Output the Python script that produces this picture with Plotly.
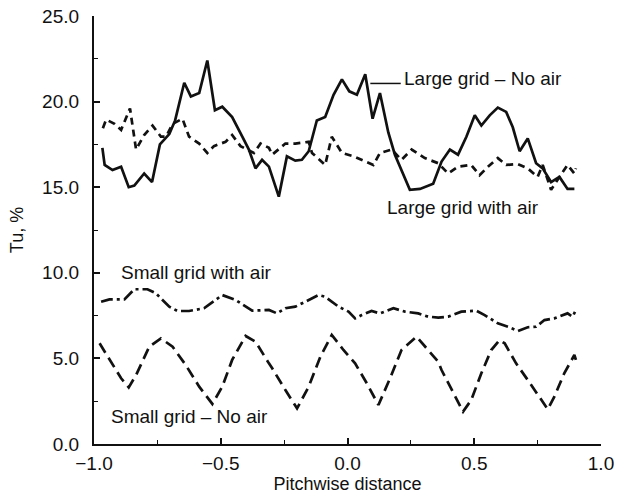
import plotly.graph_objects as go

# Turbulence intensity (Tu, %) across the pitch for four grid / air configurations

large_no_air_x = [-0.967, -0.958, -0.927, -0.893, -0.863, -0.841, -0.802, -0.771, -0.740, -0.703,
                  -0.680, -0.644, -0.618, -0.585, -0.553, -0.523, -0.494, -0.455, -0.415, -0.389,
                  -0.363, -0.337, -0.310, -0.271, -0.239, -0.206, -0.180, -0.153, -0.121, -0.088,
                  -0.055, -0.022, 0.007, 0.037, 0.070, 0.099, 0.128, 0.161, 0.187, 0.246,
                  0.286, 0.338, 0.371, 0.404, 0.436, 0.469, 0.502, 0.528, 0.561, 0.593,
                  0.626, 0.652, 0.679, 0.711, 0.744, 0.770, 0.803, 0.836, 0.868, 0.895]
large_no_air_y = [17.3, 16.3, 16.0, 16.2, 15.0, 15.1, 15.8, 15.3, 17.5, 18.1,
                  18.9, 21.1, 20.3, 20.5, 22.4, 19.5, 19.7, 19.1, 17.95, 17.2,
                  16.1, 16.6, 16.2, 14.45, 16.8, 16.55, 16.6, 17.1, 18.9, 19.1,
                  20.4, 21.3, 20.6, 20.4, 21.6, 19.0, 20.5, 18.2, 16.9, 14.85,
                  14.9, 15.2, 16.5, 17.2, 16.9, 17.95, 19.2, 18.6, 19.2, 19.65,
                  19.4, 18.5, 17.1, 17.85, 16.4, 16.1, 15.3, 15.6, 14.9, 14.9]

large_air_x = [-0.965, -0.952, -0.919, -0.893, -0.858, -0.834, -0.802, -0.769, -0.736, -0.716,
               -0.690, -0.651, -0.625, -0.585, -0.553, -0.527, -0.481, -0.455, -0.422, -0.396,
               -0.369, -0.343, -0.310, -0.297, -0.245, -0.206, -0.153, -0.140, -0.088, -0.062,
               -0.022, 0.024, 0.070, 0.102, 0.128, 0.174, 0.213, 0.253, 0.305, 0.358,
               0.397, 0.436, 0.488, 0.521, 0.554, 0.593, 0.626, 0.672, 0.711, 0.750,
               0.770, 0.803, 0.836, 0.868, 0.895, 0.901]
large_air_y = [18.45, 18.95, 18.7, 18.35, 19.6, 17.2, 18.05, 18.6, 17.95, 17.95,
               18.7, 19.0, 17.95, 17.55, 17.0, 17.4, 17.65, 18.05, 17.4, 17.2,
               17.0, 17.55, 17.3, 16.9, 17.55, 17.55, 17.65, 17.0, 16.3, 17.95,
               17.0, 16.8, 16.5, 16.3, 17.0, 17.2, 16.6, 17.2, 16.7, 16.4,
               15.8, 16.2, 16.3, 15.7, 16.2, 16.7, 16.3, 16.35, 16.1, 15.6,
               16.3, 14.85, 15.6, 16.3, 15.8, 16.1]

small_air_x = [-0.972, -0.939, -0.880, -0.841, -0.789, -0.756, -0.703, -0.671, -0.625, -0.566,
               -0.494, -0.441, -0.376, -0.310, -0.278, -0.245, -0.206, -0.166, -0.114, -0.088,
               -0.035, 0.004, 0.030, 0.056, 0.095, 0.128, 0.181, 0.227, 0.279, 0.318,
               0.358, 0.397, 0.449, 0.508, 0.541, 0.593, 0.633, 0.672, 0.711, 0.744,
               0.777, 0.816, 0.868, 0.888, 0.901]
small_air_y = [8.31, 8.45, 8.45, 9.04, 9.04, 8.8, 8.02, 7.77, 7.77, 7.93,
               8.7, 8.41, 7.79, 7.83, 7.63, 7.93, 8.02, 8.31, 8.7, 8.6,
               8.02, 7.73, 7.34, 7.53, 7.77, 7.63, 7.93, 7.73, 7.63, 7.44,
               7.38, 7.44, 7.73, 7.79, 7.53, 7.05, 6.85, 6.6, 6.82, 6.85,
               7.24, 7.34, 7.63, 7.44, 7.83]

small_no_air_x = [-0.978, -0.932, -0.893, -0.863, -0.834, -0.782, -0.736, -0.690, -0.638, -0.585,
                  -0.533, -0.494, -0.455, -0.402, -0.363, -0.310, -0.297, -0.245, -0.199, -0.153,
                  -0.107, -0.062, -0.016, 0.030, 0.076, 0.122, 0.168, 0.213, 0.272, 0.318,
                  0.358, 0.371, 0.417, 0.456, 0.488, 0.528, 0.567, 0.600, 0.620, 0.665,
                  0.711, 0.757, 0.790, 0.816, 0.855, 0.895, 0.901]
small_no_air_y = [5.88, 4.81, 3.84, 3.31, 4.03, 5.68, 6.17, 5.68, 4.61, 3.35,
                  2.34, 3.35, 4.91, 6.31, 5.98, 4.71, 4.42, 3.15, 2.08, 3.35,
                  5.1, 6.37, 5.49, 4.71, 3.55, 2.28, 3.84, 5.49, 6.27, 5.49,
                  4.81, 4.32, 2.96, 1.89, 2.57, 4.13, 5.49, 6.07, 5.88, 4.71,
                  3.74, 2.76, 2.03, 2.76, 4.13, 5.2, 4.91]

x_ticks = [-1.0, -0.5, 0.0, 0.5, 1.0]
y_ticks = [0.0, 5.0, 10.0, 15.0, 20.0, 25.0]

FONT = "Liberation Sans, Arial, Helvetica, sans-serif"
INK = "#111111"

fig = go.Figure()
fig.add_trace(go.Scatter(x=large_no_air_x, y=large_no_air_y, mode="lines",
                         line=dict(color=INK, width=2.7), name="Large grid – No air"))
fig.add_trace(go.Scatter(x=large_air_x, y=large_air_y, mode="lines",
                         line=dict(color=INK, width=2.7, dash="7px,5px"), name="Large grid with air"))
fig.add_trace(go.Scatter(x=small_air_x, y=small_air_y, mode="lines",
                         line=dict(color=INK, width=2.7, dash="12px,4px,3px,4px"), name="Small grid with air"))
fig.add_trace(go.Scatter(x=small_no_air_x, y=small_no_air_y, mode="lines",
                         line=dict(color=INK, width=2.7, dash="11px,6px"), name="Small grid – No air"))

# leader from the solid curve to its label
fig.add_shape(type="line", xref="x", yref="y", x0=0.090, y0=21.06, x1=0.210, y1=21.06,
              line=dict(color=INK, width=1.5))

labels = [
    ("Large grid – No air", 0.214, 21.37),
    ("Large grid with air", 0.149, 13.83),
    ("Small grid with air", -0.903, 10.0),
    ("Small grid – No air", -0.942, 1.63),
]
for text, lx, ly in labels:
    fig.add_annotation(x=lx, y=ly, xref="x", yref="y", text=text, showarrow=False,
                       xanchor="left", yanchor="middle",
                       font=dict(family=FONT, size=19, color=INK))

axis_common = dict(
    showline=True, linecolor=INK, linewidth=2.2, mirror=False,
    showgrid=False, zeroline=False, automargin=False,
    ticks="inside", ticklen=6, tickwidth=1.6, tickcolor=INK,
    tickfont=dict(family=FONT, size=19, color=INK),
)

fig.update_xaxes(range=[-1.0, 1.0], tickvals=x_ticks, tickformat=".1f",
                 minor=dict(dtick=0.25, ticks="inside", ticklen=4, tickwidth=1.4, tickcolor=INK),
                 ticklabelstandoff=1,
                 title=dict(text="Pitchwise distance", font=dict(family=FONT, size=18, color=INK), standoff=4),
                 **axis_common)
fig.update_yaxes(range=[0.0, 25.0], tickvals=y_ticks, tickformat=".1f",
                 minor=dict(dtick=2.5, ticks="inside", ticklen=4, tickwidth=1.4, tickcolor=INK),
                 ticklabelstandoff=9,
                 title=dict(text="Tu, %", font=dict(family=FONT, size=18, color=INK), standoff=14),
                 **axis_common)

fig.update_layout(
    width=619, height=495,
    margin=dict(l=94, r=18, t=16, b=51, autoexpand=False),
    paper_bgcolor="white", plot_bgcolor="white",
    showlegend=False,
    font=dict(family=FONT, color=INK),
)

fig.write_html("out.html")
